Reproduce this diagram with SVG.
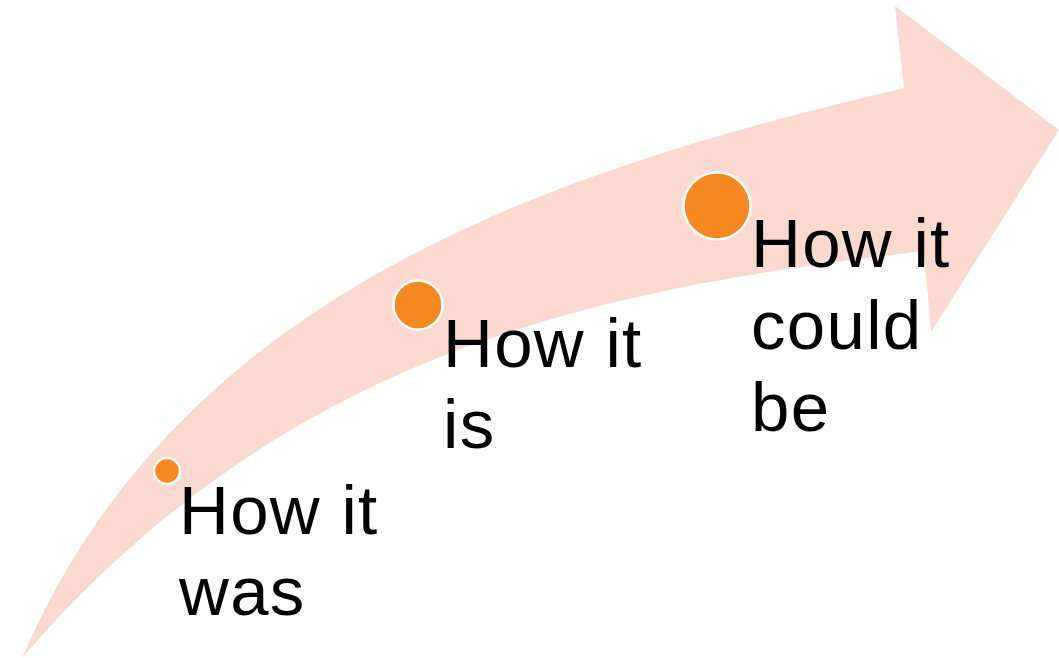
<svg xmlns="http://www.w3.org/2000/svg" width="1059" height="658" viewBox="0 0 1059 658">
  <style>
    .band { fill: #FADACE; stroke: none; }
    .dot { fill: #F58820; stroke: #FFFFFF; stroke-width: 2.5; }
    .label { font-family: "Liberation Sans", Arial, sans-serif; font-size: 69px; letter-spacing: 1.3px; fill: #000000; }
  </style>
  <rect width="1059" height="658" fill="#FFFFFF"/>
  <g id="arrow">
    <path class="band" d="M22,658 C180,290 555,170 904,88 L895,6 L1059,130 L931,332 L924,251 C624,287 297,338 22,658 Z"/>
  </g>
  <g id="node-was">
    <circle class="dot" cx="167" cy="471" r="13"/>
    <text class="label" x="179" y="534">How it</text>
    <text class="label" x="179" y="615">was</text>
  </g>
  <g id="node-is">
    <circle class="dot" cx="418" cy="305" r="24.5"/>
    <text class="label" x="443" y="367">How it</text>
    <text class="label" x="443" y="448">is</text>
  </g>
  <g id="node-could">
    <circle class="dot" cx="717" cy="206" r="33.5"/>
    <text class="label" x="751" y="267">How it</text>
    <text class="label" x="751" y="349">could</text>
    <text class="label" x="751" y="431">be</text>
  </g>
  <g id="connectors"></g>
</svg>
